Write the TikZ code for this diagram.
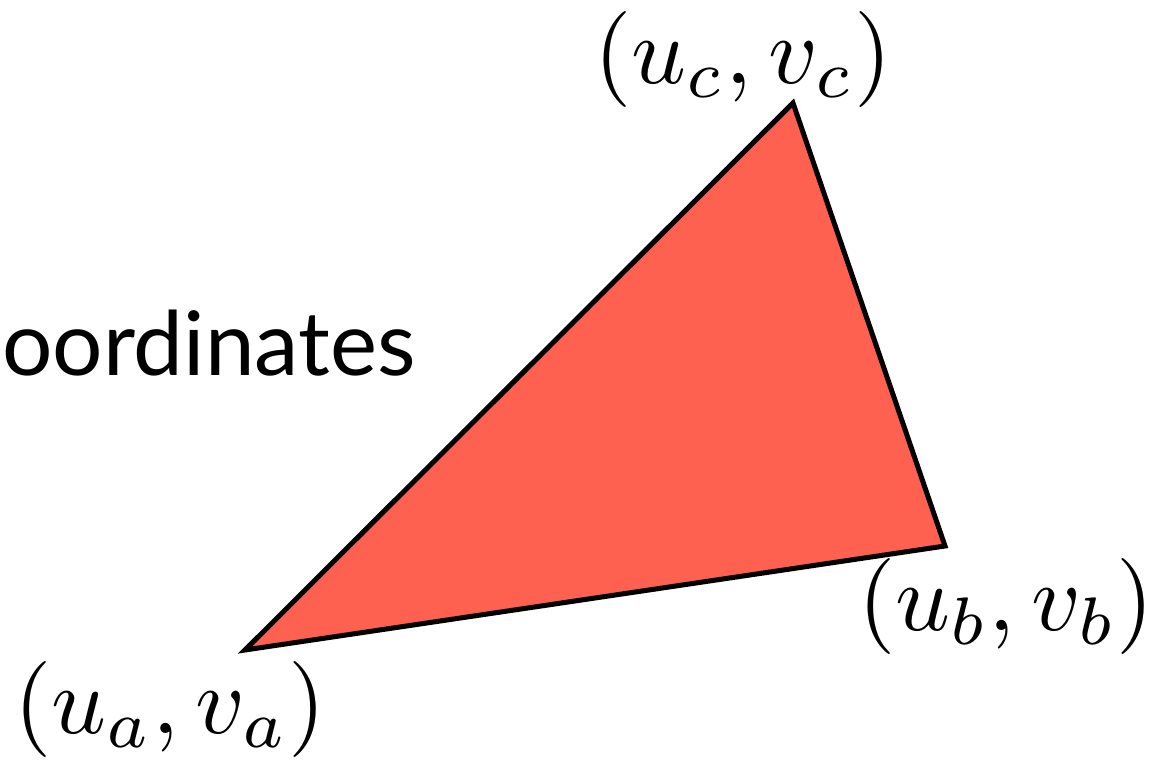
\documentclass[tikz,border=0pt]{standalone}
\usepackage{fontspec}
\setsansfont{Lato}
\usetikzlibrary{positioning}
\definecolor{csalmon}{HTML}{FF6151}
\tikzset{
  every picture/.style={x=1pt, y=-1pt},
  tri/.style={draw=black, fill=csalmon, line width=5pt, line join=miter},
  vlabel/.style={anchor=base, scale=9.6, inner sep=0pt},
  caption/.style={anchor=base west, inner sep=0pt, font=\sffamily\fontsize{89}{100}\selectfont},
}
\begin{document}
\begin{tikzpicture}
  \useasboundingbox (0,0) rectangle (1156,760);
  % triangle corners
  \coordinate (va) at (245,650);
  \coordinate (vb) at (945,546);
  \coordinate (vc) at (793,103);
  \draw[tri] (va) -- (vb) -- (vc) -- cycle;
  % labels
  \node[vlabel] (la) at (170,733) {$(u_a,v_a)$};
  \node[vlabel] (lb) at (1006,630) {$(u_b,v_b)$};
  \node[vlabel] (lc) at (743,83) {$(u_c,v_c)$};
  \node[caption] (txt) at (2,375) {oordinates};
\end{tikzpicture}
\end{document}
